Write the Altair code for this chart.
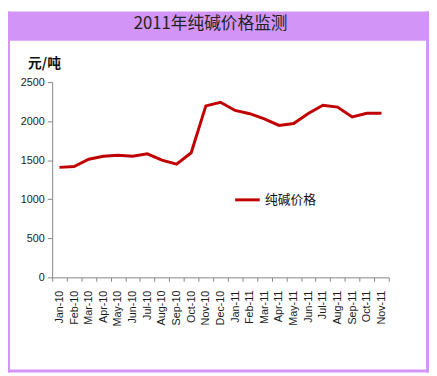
import altair as alt
import pandas as pd

TITLE = "2011年纯碱价格监测"
Y_TITLE = "元/吨"
SERIES = "纯碱价格"
months = ["Jan-10", "Feb-10", "Mar-10", "Apr-10", "May-10", "Jun-10", "Jul-10",
          "Aug-10", "Sep-10", "Oct-10", "Nov-10", "Dec-10", "Jan-11", "Feb-11",
          "Mar-11", "Apr-11", "May-11", "Jun-11", "Jul-11", "Aug-11", "Sep-11",
          "Oct-11", "Nov-11"]
prices = [1408, 1420, 1512, 1550, 1563, 1550, 1582, 1500, 1450, 1595, 2195, 2242,
          2137, 2095, 2030, 1945, 1970, 2097, 2203, 2180, 2055, 2100, 2100]
y_ticks = [0, 500, 1000, 1500, 2000, 2500]

df = pd.DataFrame({"month": months, "price": prices, "series": [SERIES] * len(months)})
one = pd.DataFrame({"t": [TITLE]})

W, H = 343, 199
PL, PT = 45, 72
TOTAL_W, TOTAL_H = 429, 368
PURPLE = "#D295F7"

band = alt.Chart(one).mark_rect(color=PURPLE).encode(
    x=alt.value(-PL), x2=alt.value(TOTAL_W - PL),
    y=alt.value(-PT), y2=alt.value(-PT + 30))
right_b = alt.Chart(one).mark_rect(color=PURPLE).encode(
    x=alt.value(TOTAL_W - PL - 3), x2=alt.value(TOTAL_W - PL),
    y=alt.value(-PT), y2=alt.value(TOTAL_H - PT))
bottom_b = alt.Chart(one).mark_rect(color=PURPLE).encode(
    x=alt.value(-PL), x2=alt.value(TOTAL_W - PL),
    y=alt.value(TOTAL_H - PT - 3), y2=alt.value(TOTAL_H - PT))
left_b = alt.Chart(one).mark_rect(color=PURPLE).encode(
    x=alt.value(-PL), x2=alt.value(-PL + 2),
    y=alt.value(-PT), y2=alt.value(TOTAL_H - PT))
title = alt.Chart(one).mark_text(
    font="Noto Sans CJK SC", fontSize=17, color="#222222",
    align="center", baseline="middle").encode(
    text="t:N", x=alt.value(214.5 - 53), y=alt.value(21 - 80))

line = alt.Chart(df).mark_line(strokeWidth=3).encode(
    x=alt.X("month:N", sort=months, title=None,
            scale=alt.Scale(paddingInner=0, paddingOuter=0),
            axis=alt.Axis(labelAngle=-90, labelAlign="right", labelBaseline="middle",
                          labelFont="Liberation Sans", labelFontSize=11,
                          labelColor="#1a1a1a", labelPadding=9, tickSize=4,
                          tickBand="extent", domainColor="#868686",
                          tickColor="#868686", grid=False)),
    y=alt.Y("price:Q", scale=alt.Scale(domain=[0, 2500]), title=Y_TITLE,
            axis=alt.Axis(values=y_ticks, format="d", grid=False,
                          labelFont="Liberation Sans", labelFontSize=11,
                          labelColor="#1a1a1a", tickSize=5, labelPadding=3,
                          domainColor="#868686", tickColor="#868686",
                          titleAngle=0, titleAlign="left", titleBaseline="middle",
                          titleX=-25, titleY=-19, titleFont="Noto Sans CJK SC",
                          titleFontSize=14, titleFontWeight="bold",
                          titleColor="#111111")),
    color=alt.Color("series:N", scale=alt.Scale(domain=[SERIES], range=["#C00000"]),
                    legend=alt.Legend(title=None, orient="none", legendX=185, legendY=106,
                                      symbolType="stroke", symbolSize=625,
                                      symbolStrokeWidth=3, labelFont="Noto Sans CJK SC",
                                      labelFontSize=13, labelColor="#111111",
                                      padding=0, labelOffset=4)))

chart = alt.layer(band, right_b, bottom_b, left_b, title, line).properties(
    width=W, height=H,
    autosize=alt.AutoSizeParams(type="none"),
    padding={"left": PL, "top": PT, "right": TOTAL_W - PL - W, "bottom": TOTAL_H - PT - H},
    background="white",
).configure_view(stroke=None)

chart.save("out.html", embed_options={"renderer": "svg", "actions": False})
